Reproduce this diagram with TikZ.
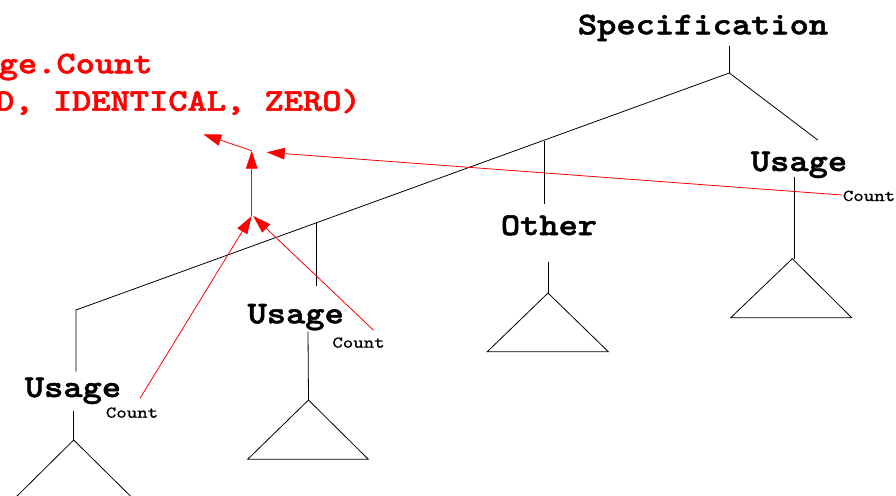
\documentclass[tikz,border=0pt]{standalone}
\usepackage{fontspec}
\usetikzlibrary{arrows.meta}
% heavy, slightly widened typewriter faces for the labels
\newfontfamily\labfont[FakeStretch=1.16,FakeBold=1.6]{lmmonolt10-bold.otf}
\newfontfamily\cntfont[FakeStretch=1.2,FakeBold=0.6]{lmmono10-regular.otf}
\begin{document}
\begin{tikzpicture}[x=1pt,y=-1pt,
  lbl/.style={font=\fontsize{31.6}{36}\labfont, inner sep=0pt, anchor=base},
  attr/.style={font=\fontsize{16.6}{20}\cntfont, inner sep=0pt, anchor=base},
  note/.style={font=\fontsize{31.6}{36}\labfont, text=red, inner sep=0pt},
  edge/.style={draw=black, line width=0.8pt},
  flow/.style={draw=red, line width=0.8pt, -{Triangle[length=18pt,width=11.5pt]}}]
\useasboundingbox (0,0) rectangle (896,495);
\clip (0,0) rectangle (896,495);

% labels of the tree
\node[lbl] (spec)   at (703,34.3)   {Specification};
\node[lbl] (usageA) at (73,397)     {Usage};
\node[lbl] (usageB) at (295.7,323.3){Usage};
\node[lbl] (other)  at (549,235)    {Other};
\node[lbl] (usageC) at (799,171)    {Usage};
\node[attr] (cntA)  at (132,417.7)  {Count};
\node[attr] (cntB)  at (358.5,347.7){Count};
\node[attr] (cntC)  at (869,201)    {Count};

% red annotation
\node[note, anchor=base west] (res1) at (-1.5,73.3)  {ge.Count};
\node[note, anchor=base east] (res2) at (361,110.7)  {D, IDENTICAL, ZERO)};

% tree skeleton
\coordinate (root)  at (729.3,73);
\coordinate (rtop)  at (729.3,46);
\coordinate (bend)  at (76,310);
\coordinate (bendE) at (76,371.7);
\coordinate (oJ)    at (544,141.3);
\coordinate (oE)    at (544,204);
\coordinate (bJ)    at (316,223.4);
\coordinate (bE)    at (316,286);
\coordinate (cE)    at (817.7,140);
\draw[edge] (rtop) -- (root);
\draw[edge] (root) -- (bend) -- (bendE);
\draw[edge] (root) -- (cE);
\draw[edge] (oJ) -- (oE);
\draw[edge] (bJ) -- (bE);

% subtrees below each label
\coordinate (aS) at (73.7,410.7);  \coordinate (aT) at (73.7,440);
\coordinate (bS) at (308,331.7);   \coordinate (bT) at (308.5,400);
\coordinate (oS) at (548,261.7);   \coordinate (oT) at (548,293);
\coordinate (cS) at (794.3,176.7); \coordinate (cT) at (792.3,258.7);
\draw[edge] (aS) -- (aT);
\draw[edge] (aT) -- ++(-60,59.3) -- ++(120,0) -- cycle;
\draw[edge] (bS) -- (bT);
\draw[edge] (bT) -- (247.7,459.3) -- (368.3,459.3) -- cycle;
\draw[edge] (oS) -- (oT);
\draw[edge] (oT) -- (487.3,351.7) -- (608.3,351.7) -- cycle;
\draw[edge] (cS) -- (cS |- cT);
\draw[edge] (cT) -- (730.7,317.7) -- (851.7,317.7) -- cycle;

% data flow of the counts
\coordinate (low)   at (251.7,216);
\coordinate (up)    at (251.7,150.7);
\coordinate (outA)  at (140,398.3);
\coordinate (outB)  at (373.3,330);
\coordinate (outC)  at (841.7,195);
\coordinate (toRes) at (203.3,134.3);
\coordinate (upR)   at (266.7,152.3);
\draw[flow] (outA) -- (low);
\draw[flow] (outB) -- ([xshift=1.5pt]low);
\draw[flow] (low) -- (up);
\draw[flow] (up) -- (toRes);
\draw[flow] (outC) -- (upR);
\end{tikzpicture}
\end{document}
